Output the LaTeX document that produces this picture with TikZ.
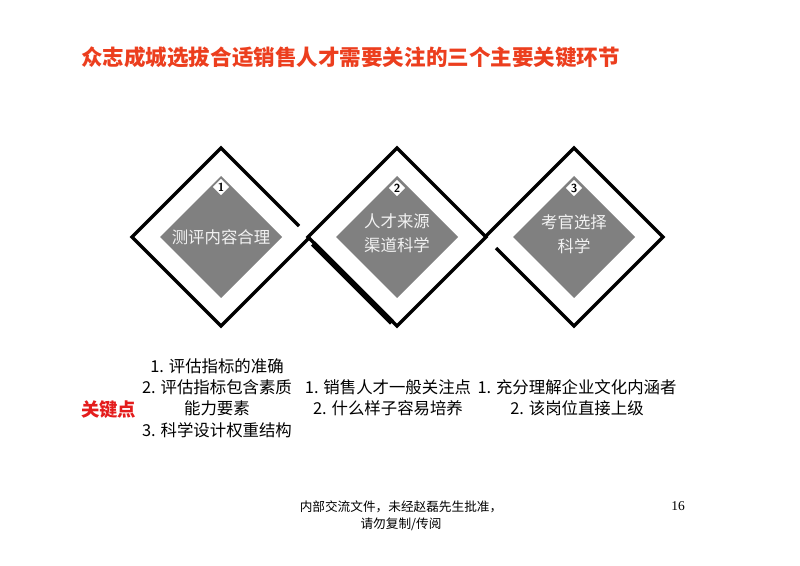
\documentclass[tikz,border=0pt]{standalone}
\usepackage{fontspec}
\setmainfont{Noto Sans CJK SC}
\newfontfamily\numfont{Liberation Serif}
\usetikzlibrary{calc,shapes.geometric}
\usepackage{xcolor}

\definecolor{titlered}{RGB}{236,62,30}
\definecolor{keyred}{RGB}{228,28,28}
\definecolor{coregray}{RGB}{128,128,128}
\definecolor{coretext}{RGB}{242,242,242}

\tikzset{
  frame/.style={line width=3pt, line join=miter},
  core/.style={fill=coregray},
  corelabel/.style={text=coretext, align=center, font=\fontsize{14}{20.5}\selectfont},
  badge/.style={diamond, fill=white, inner sep=0.3pt, minimum size=13pt, font=\sffamily\bfseries\fontsize{10}{10}\selectfont},
  keytext/.style={align=center, font=\fontsize{14}{18.2}\selectfont}
}

\begin{document}
\begin{tikzpicture}[x=0.03cm,y=-0.03cm]
			\useasboundingbox[fill=white] (0,0) rectangle (800,566);
			\def\outr{89};
			\def\inr{61};
			
			\node[anchor=west, text=titlered, font=\bfseries\fontsize{18.4}{20}\selectfont] (title) at (77,57) {众志成城选拔合适销售人才需要关注的三个主要关键环节};
			
			\coordinate (c1) at (221,237);
			\coordinate (c2) at (397,237);
			\coordinate (c3) at (574,237);
			
			\fill[core] ($(c1)+(0,-\inr)$) -- ($(c1)+(-\inr,0)$) -- ($(c1)+(0,\inr)$) -- ($(c1)+(\inr,0)$) -- cycle;
			\fill[core] ($(c2)+(0,-\inr)$) -- ($(c2)+(-\inr,0)$) -- ($(c2)+(0,\inr)$) -- ($(c2)+(\inr,0)$) -- cycle;
			\fill[core] ($(c3)+(0,-\inr)$) -- ($(c3)+(-\inr,0)$) -- ($(c3)+(0,\inr)$) -- ($(c3)+(\inr,0)$) -- cycle;
			
			% outer frames, woven into each other
			\draw[frame] ($(c1)+(78,-11)$) -- ($(c1)+(0,-\outr)$) -- ($(c1)+(-\outr,0)$) -- ($(c1)+(0,\outr)$) -- ($(c1)+(\outr,0)$);
			\draw[frame] ($(c2)+(0,-\outr)$) -- ($(c2)+(-\outr,0)$) -- ($(c2)+(0,\outr)$) -- ($(c2)+(\outr,0)$) -- cycle;
			\draw[line width=5pt] ($(c2)+(-84,6.5)$) -- ($(c2)+(-5,85.5)$);
			\draw[frame] ($(c3)+(-78,11)$) -- ($(c3)+(0,\outr)$) -- ($(c3)+(\outr,0)$) -- ($(c3)+(0,-\outr)$) -- ($(c3)+(-\outr,0)$);
			
			\node[corelabel] (core1) at (c1) {测评内容合理};
			\node[corelabel] (core2) at ($(c2)+(0,-4)$) {人才来源\\渠道科学};
			\node[corelabel] (core3) at ($(c3)+(0,-3)$) {考官选择\\科学};
			
			\node[badge] (num1) at ($(c1)+(0,-50)$) {1};
			\node[badge] (num2) at ($(c2)+(0,-49)$) {2};
			\node[badge] (num3) at ($(c3)+(0,-49)$) {3};
			
			\node[anchor=west, text=keyred, font=\bfseries\fontsize{15.7}{16}\selectfont] (keyhead) at (77,410) {关键点};
			\node[keytext] (keys1) at (217,398) {1. 评估指标的准确\\2. 评估指标包含素质\\能力要素\\3. 科学设计权重结构};
			\node[keytext] (keys2) at (388,397.5) {1. 销售人才一般关注点\\2. 什么样子容易培养};
			\node[keytext] (keys3) at (577,397.5) {1. 充分理解企业文化内涵者\\2. 该岗位直接上级};
			
			\node[align=center, font=\fontsize{10.8}{14.5}\selectfont] (note) at (401,515.5) {内部交流文件，未经赵磊先生批准，\\请勿复制/传阅};
			\node[font=\numfont\fontsize{11.5}{12}\selectfont] (page) at (678,506) {16};
\end{tikzpicture}
\end{document}
